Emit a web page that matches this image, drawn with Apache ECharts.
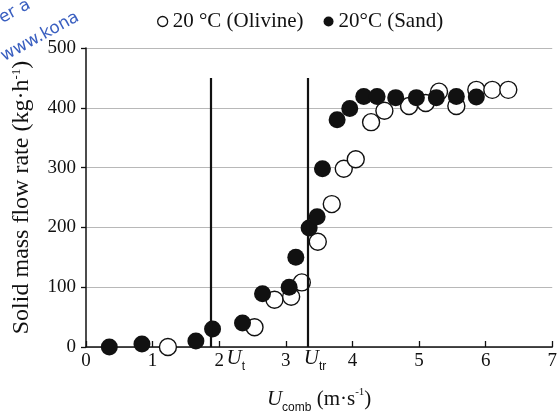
<!DOCTYPE html>
<html>
<head>
<meta charset="utf-8">
<script src="https://cdn.jsdelivr.net/npm/echarts@6/dist/echarts.min.js"></script>
<style>
html,body{margin:0;padding:0;background:#fff;}
#chart{width:560px;height:419px;}
</style>
</head>
<body>
<div id="chart"></div>
<script>
// ---- data ----
var olivineX = [1.23, 2.53, 2.83, 3.08, 3.24, 3.48, 3.69, 3.87, 4.05, 4.28, 4.48, 4.85, 5.10, 5.30, 5.56, 5.86, 6.10, 6.34];
var olivineY = [0, 33, 79, 84, 108, 176, 239, 298, 314, 376, 395, 403, 408, 427, 403, 430, 430, 430];
var sandX = [0.35, 0.84, 1.65, 1.90, 2.35, 2.65, 3.05, 3.15, 3.35, 3.47, 3.55, 3.77, 3.96, 4.17, 4.37, 4.65, 4.96, 5.26, 5.56, 5.86];
var sandY = [0, 5, 10, 30, 40, 89, 100, 150, 199, 218, 298, 380, 399, 419, 419, 417, 417, 417, 419, 418];
var seriesNames = ['20 °C (Olivine)', '20°C (Sand)'];
var uT = 1.87, uTr = 3.33, markTop = 450;
var xTicks = {min: 0, max: 7, step: 1};
var yTicks = {min: 0, max: 500, step: 100};

function pairs(xs, ys){ return xs.map(function(x,i){ return [x, ys[i]]; }); }

var FONT = '"Liberation Serif", "Times New Roman", serif';
var chart = echarts.init(document.getElementById('chart'), null, {renderer: 'canvas'});

var option = {
  backgroundColor: '#fff',
  animation: false,
  textStyle: {fontFamily: FONT},
  grid: {left: 86, right: 4, top: 48, bottom: 68},
  legend: {
    left: 152, top: 6,
    itemWidth: 10, itemHeight: 10, itemGap: 20,
    textStyle: {fontFamily: FONT, fontSize: 21, color: '#111'},
    data: [
      {name: seriesNames[0], icon: 'circle', itemStyle: {color: '#fff', borderColor: '#111', borderWidth: 1.3}},
      {name: seriesNames[1], icon: 'circle', itemStyle: {color: '#111', borderWidth: 0}}
    ]
  },
  xAxis: {
    type: 'value', min: xTicks.min, max: xTicks.max, interval: xTicks.step,
    axisLine: {show: true, onZero: false, lineStyle: {color: '#111', width: 1.5}},
    axisTick: {show: true, inside: true, length: 6, lineStyle: {color: '#111', width: 1.3}},
    axisLabel: {fontFamily: FONT, fontSize: 19, color: '#111', margin: 5},
    splitLine: {show: false},
    name: '{u|U}{s|comb}{t| (m·s}{p|-1}{t|)}',
    nameLocation: 'middle', nameGap: 37,
    nameTextStyle: {
      rich: {
        u: {fontFamily: FONT, fontStyle: 'italic', fontSize: 21, color: '#111', lineHeight: 30, verticalAlign: 'middle'},
        s: {fontFamily: '"Liberation Sans", Arial, sans-serif', fontSize: 12, color: '#111', lineHeight: 12, verticalAlign: 'bottom'},
        t: {fontFamily: FONT, fontSize: 21, color: '#111', lineHeight: 30, verticalAlign: 'middle'},
        p: {fontFamily: FONT, fontSize: 11, color: '#111', lineHeight: 12, verticalAlign: 'top', padding: [3,0,0,0]}
      }
    }
  },
  yAxis: {
    type: 'value', min: yTicks.min, max: yTicks.max, interval: yTicks.step,
    axisLine: {show: true, lineStyle: {color: '#111', width: 1.5}},
    axisTick: {show: true, inside: false, length: 5, lineStyle: {color: '#111', width: 1.3}},
    axisLabel: {fontFamily: FONT, fontSize: 19, color: '#111', margin: 10},
    splitLine: {show: true, lineStyle: {color: '#b8b8b8', width: 1}},
    name: '{t|Solid mass flow rate (kg·h}{p|-1}{t|)}',
    nameLocation: 'middle', nameRotate: 90, nameGap: 50,
    nameTextStyle: {
      rich: {
        t: {fontFamily: FONT, fontSize: 24, color: '#111', lineHeight: 28, verticalAlign: 'middle'},
        p: {fontFamily: FONT, fontSize: 13, color: '#111', lineHeight: 12, verticalAlign: 'top', padding: [2,0,0,0]}
      }
    }
  },
  series: [
    {
      name: seriesNames[0], type: 'scatter', symbol: 'circle', symbolSize: 17,
      data: pairs(olivineX, olivineY),
      itemStyle: {color: '#fff', borderColor: '#111', borderWidth: 1.4, opacity: 1},
      z: 3,
      markLine: {
        silent: true, symbol: ['none', 'none'], animation: false,
        label: {show: false},
        lineStyle: {color: '#111', width: 2.2, type: 'solid'},
        data: [
          [{coord: [uT, 0]}, {coord: [uT, markTop]}],
          [{coord: [uTr, 0]}, {coord: [uTr, markTop]}]
        ]
      }
    },
    {
      name: seriesNames[1], type: 'scatter', symbol: 'circle', symbolSize: 17,
      data: pairs(sandX, sandY),
      itemStyle: {color: '#111', borderColor: '#111', borderWidth: 0, opacity: 1},
      z: 4
    }
  ]
};
chart.setOption(option);

// annotation labels placed through the chart's own scale
var pT = chart.convertToPixel({gridIndex: 0}, [uT, 0]);
var pTr = chart.convertToPixel({gridIndex: 0}, [uTr, 0]);
var rich = {
  u: {fontFamily: FONT, fontStyle: 'italic', fontSize: 21, fill: '#111', lineHeight: 30, verticalAlign: 'middle'},
  s: {fontFamily: '"Liberation Sans", Arial, sans-serif', fontSize: 12, fill: '#111', lineHeight: 12, verticalAlign: 'bottom'}
};
chart.setOption({
  graphic: [
    {type: 'text', x: pT[0] + 16, y: pT[1] - 4, style: {text: '{u|U}{s|t}', rich: rich, fill: '#111'}},
    {type: 'text', x: pTr[0] - 4, y: pTr[1] - 4, style: {text: '{u|U}{s|tr}', rich: rich, fill: '#111'}},
    {type: 'text', x: -4, y: 12, rotation: 0.5, style: {text: 'er a', font: '17px "DejaVu Sans", sans-serif', fill: '#3a5fc0'}},
    {type: 'text', x: -2, y: 50, rotation: 0.5, style: {text: 'www.kona', font: '17px "DejaVu Sans", sans-serif', fill: '#3a5fc0'}}
  ]
});
</script>
</body>
</html>
